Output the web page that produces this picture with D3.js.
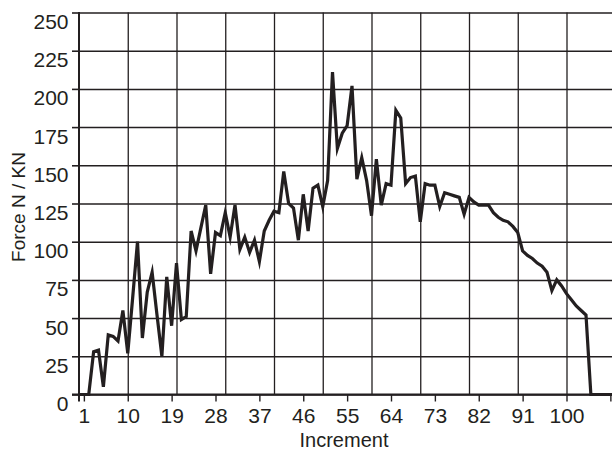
<!DOCTYPE html>
<html>
    <head>
        <script src="https://cdnjs.cloudflare.com/ajax/libs/d3/7.8.5/d3.min.js"></script>
        <title>Force / Increment</title>

        <style>

            html, body {
                margin: 0;
                background-color: white;
            }

            .svg_canvas {
                display: block;
                font-family: "Liberation Sans", Arial, sans-serif;
            }

        </style>
    </head>
    <body>
        <svg height="452" width="612" class="svg_canvas">
        </svg>

        <script>

            var increments = [0, 1, 2, 3, 4, 5, 6, 7, 8, 9,
                10, 11, 12, 13, 14, 15, 16, 17, 18, 19,
                20, 21, 22, 23, 24, 25, 26, 27, 28, 29,
                30, 31, 32, 33, 34, 35, 36, 37, 38, 39,
                40, 41, 42, 43, 44, 45, 46, 47, 48, 49,
                50, 51, 52, 53, 54, 55, 56, 57, 58, 59,
                60, 61, 62, 63, 64, 65, 66, 67, 68, 69,
                70, 71, 72, 73, 74, 75, 76, 77, 78, 79,
                80, 81, 82, 83, 84, 85, 86, 87, 88, 89,
                90, 91, 92, 93, 94, 95, 96, 97, 98, 99,
                100, 101, 102, 103, 104, 105, 106, 107, 108, 109, 110];

            var force = [0, 0, 0, 28, 29, 5, 39, 38, 35, 55,
                27, 63, 100, 37, 67, 80, 52, 25, 77, 45,
                86, 49, 51, 107, 94, 109, 124, 79, 106, 104,
                119, 103, 124, 95, 103, 93, 101, 87, 107, 114,
                120, 119, 146, 125, 122, 101, 131, 107, 135, 137,
                123, 140, 211, 161, 171, 176, 202, 141, 155, 140,
                117, 154, 124, 138, 137, 186, 181, 138, 142, 143,
                113, 138, 137, 137, 123, 132, 131, 130, 129, 118,
                129, 126, 124, 124, 124, 119, 116, 114, 113, 110,
                106, 94, 91, 89, 86, 84, 80, 68, 75, 71,
                66, 62, 58, 55, 52, 0, 0, 0, 0, 0, 0];

            // tick marks every 9 increments, labels stop at 100 (109 falls on the edge)
            var xTicks = [1, 10, 19, 28, 37, 46, 55, 64, 73, 82, 91, 100, 109];
            var xLabels = ["1", "10", "19", "28", "37", "46", "55", "64", "73", "82", "91", "100", ""];
            var xGrid = [10, 20, 30, 40, 50, 60, 70, 80, 90, 100, 110];
            var yTicks = [0, 25, 50, 75, 100, 125, 150, 175, 200, 225, 250];

            var ink = "#231f20";

            var x = d3.scaleLinear()
                .domain([0, 112])
                .range([79, 79 + 112 * 4.875]);

            var y = d3.scaleLinear()
                .domain([0, 250])
                .range([394.5, 12.5]);

            var svg = d3.select("svg");

            // grid
            svg.append("g")
                .attr("transform", "translate(79,0)")
                .call(d3.axisLeft(y).tickValues(yTicks).tickSize(-560).tickFormat(""))
                .call(function(g){ g.select(".domain").remove(); })
                .selectAll("line")
                .attr("stroke", ink)
                .attr("stroke-width", 1.5);

            svg.append("g")
                .attr("transform", "translate(0,394.5)")
                .call(d3.axisBottom(x).tickValues(xGrid).tickSize(-382).tickFormat(""))
                .call(function(g){ g.select(".domain").remove(); })
                .selectAll("line")
                .attr("stroke", ink)
                .attr("stroke-width", 1.3);

            // y axis
            var yAxis = svg.append("g")
                .attr("transform", "translate(79,0)")
                .call(d3.axisLeft(y).tickValues(yTicks).tickSize(7).tickSizeOuter(0));

            yAxis.select(".domain").remove();
            yAxis.selectAll("line").attr("stroke", ink).attr("stroke-width", 1.6);
            yAxis.selectAll("text")
                .attr("dy", "16px")
                .attr("y", 0)
                .attr("x", -10.5)
                .style("font-size", "21px")
                .style("font-family", "'Liberation Sans', Arial, sans-serif")
                .attr("fill", ink);

            // x axis
            var xAxis = svg.append("g")
                .attr("transform", "translate(0,394.5)")
                .call(d3.axisBottom(x).tickValues(xTicks).tickSize(7).tickSizeOuter(0)
                    .tickFormat(function(d, i){ return xLabels[i]; }));

            xAxis.select(".domain").remove();
            xAxis.selectAll("line").attr("stroke", ink).attr("stroke-width", 1.4);
            xAxis.selectAll("text")
                .attr("y", 28.5)
                .attr("dy", 0)
                .style("font-size", "21px")
                .style("font-family", "'Liberation Sans', Arial, sans-serif")
                .attr("fill", ink);

            // axis lines
            svg.append("line")
                .attr("x1", 79).attr("x2", 79)
                .attr("y1", 12).attr("y2", 401.5)
                .attr("stroke", ink)
                .attr("stroke-width", 2);

            svg.append("line")
                .attr("x1", 72).attr("x2", 612)
                .attr("y1", 394.5).attr("y2", 394.5)
                .attr("stroke", ink)
                .attr("stroke-width", 2);

            // data line
            var line = d3.line()
                .x(function(d, i){ return x(increments[i]); })
                .y(function(d){ return y(d); });

            svg.append("path")
                .datum(force)
                .attr("d", line)
                .attr("fill", "none")
                .attr("stroke", ink)
                .attr("stroke-width", 3.2)
                .attr("stroke-linejoin", "miter")
                .attr("stroke-miterlimit", 6);

            // titles
            svg.append("text")
                .attr("x", 344)
                .attr("y", 447)
                .attr("text-anchor", "middle")
                .style("font-size", "20px")
                .attr("fill", ink)
                .text("Increment");

            svg.append("text")
                .attr("transform", "translate(25,207) rotate(-90)")
                .attr("text-anchor", "middle")
                .style("font-size", "19px")
                .attr("fill", ink)
                .text("Force N / KN");

        </script>
    </body>
</html>
